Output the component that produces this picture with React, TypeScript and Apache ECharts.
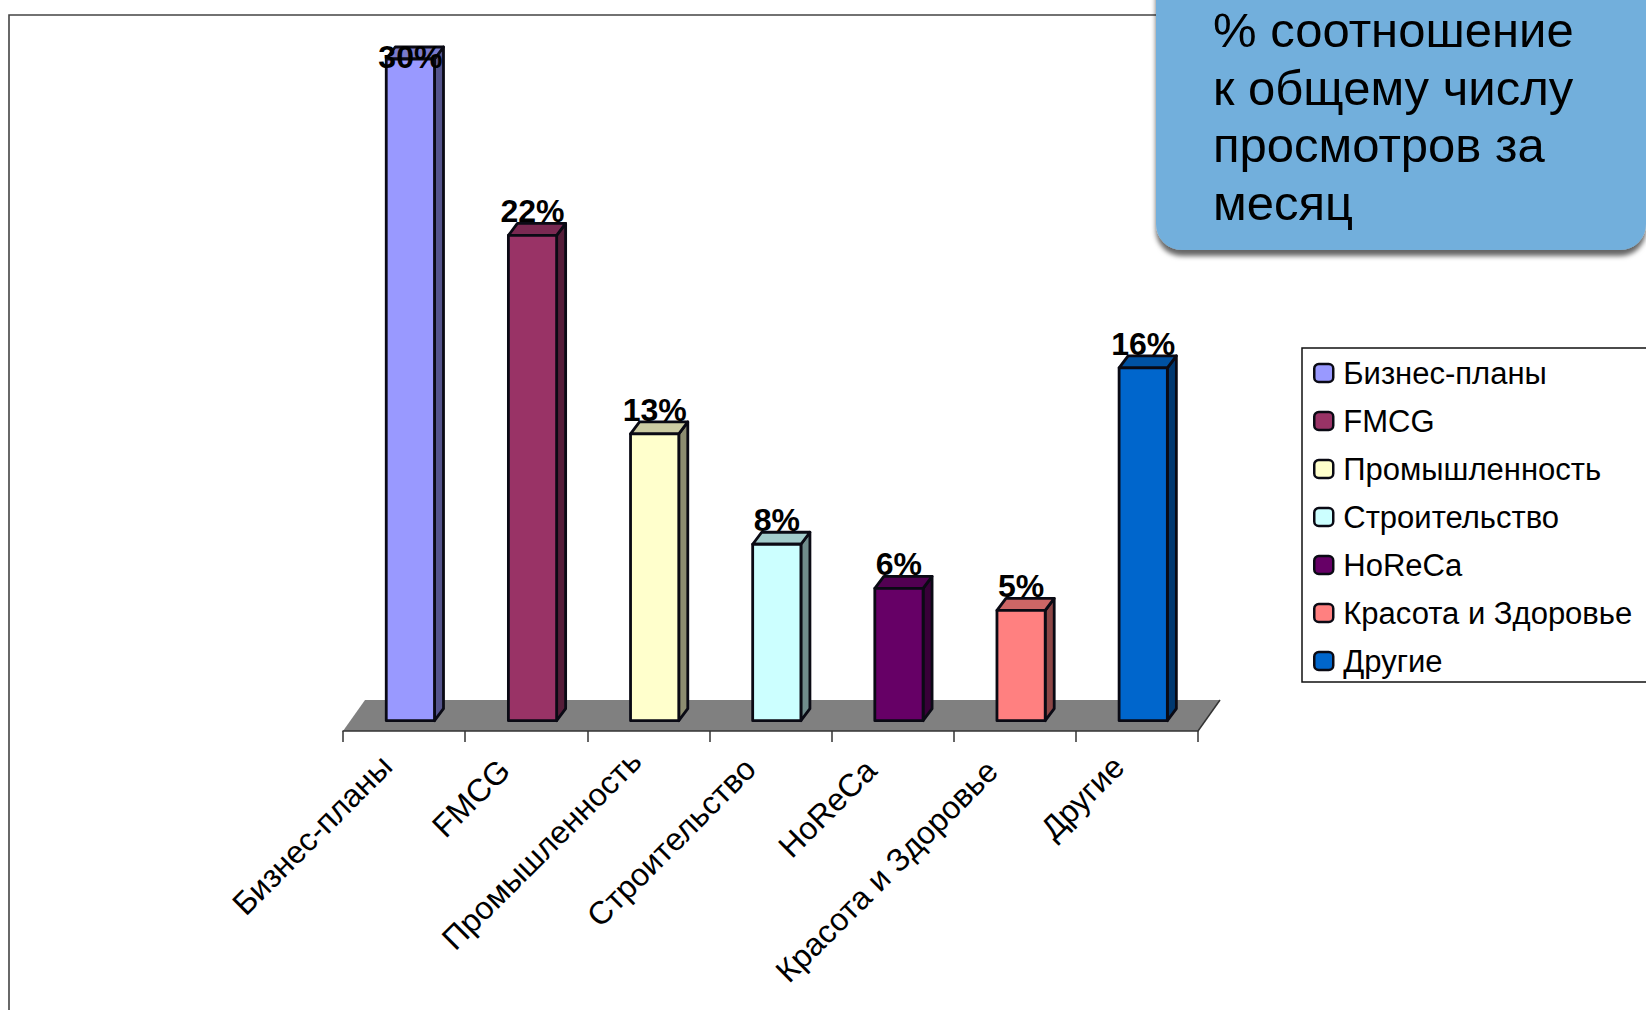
import React, { useEffect, useRef } from "react";
import * as echarts from "echarts";

const categories = ["Бизнес-планы", "FMCG", "Промышленность", "Строительство", "HoReCa", "Красота и Здоровье", "Другие"];
const values = [30, 22, 13, 8, 6, 5, 16];
const colors = ["#9999FF", "#993366", "#FFFFCC", "#CCFFFF", "#660066", "#FF8080", "#0066CC"];
const calloutLines = ["% соотношение", "к общему числу", "просмотров за", "месяц"];
// per-label shift [top, right, bottom, left] of the slanted tick labels
const labelPadding = [
  [0, 25, 0, 0],
  [0, 31, 0, 0],
  [0, 18, 0, 0],
  [0, 29, 0, 0],
  [0, 31, 0, 0],
  [0, 32, 0, 0],
  [0, 26, 0, 0],
];

const shade = (hex: string, k: number) => {
  const n = parseInt(hex.slice(1), 16);
  const c = [(n >> 16) & 255, (n >> 8) & 255, n & 255].map((v) => Math.round(v * k));
  return `rgb(${c[0]},${c[1]},${c[2]})`;
};

const DX = 9;
const DY = 12;
const EDGE = "#0a0a14";

const renderBar = (color: string) => (params: any, api: any) => {
  const idx = api.value(0);
  const val = api.value(1);
  const [cx, top] = api.coord([idx, val]);
  const [, bottom] = api.coord([idx, 0]);
  const w = api.size([1, 0])[0] * 0.395;
  const l = cx + 6.3 - w / 2;
  const r = l + w;
  const stroke = { stroke: EDGE, lineWidth: 2.8, lineJoin: "round" };
  const labelY = Math.max(top - DY + 4, params.coordSys.y + 14);
  return {
    type: "group",
    children: [
      { type: "polygon", shape: { points: [[r, top], [r + DX, top - DY], [r + DX, bottom - DY], [r, bottom]] }, style: { fill: shade(color, 0.55), ...stroke } },
      { type: "polygon", shape: { points: [[l, top], [l + DX, top - DY], [r + DX, top - DY], [r, top]] }, style: { fill: shade(color, 0.8), ...stroke } },
      { type: "rect", shape: { x: l, y: top, width: w, height: bottom - top }, style: { fill: color, ...stroke } },
      {
        type: "text",
        z2: 10,
        style: {
          text: `${val}%`,
          x: l + w / 2,
          y: labelY,
          align: "center",
          verticalAlign: "bottom",
          fontFamily: "Liberation Sans",
          fontWeight: "bold",
          fontSize: 32,
          fill: "#000",
        },
      },
    ],
  };
};

const renderFloor = (params: any) => {
  const c = params.coordSys;
  const b = c.y + c.height;
  const left = c.x;
  const right = c.x + c.width;
  return {
    type: "group",
    children: [
      { type: "polygon", shape: { points: [[left, b], [left + 22, b - 31], [right + 22, b - 31], [right, b]] }, style: { fill: "#808080" } },
      { type: "line", shape: { x1: right, y1: b, x2: right + 22, y2: b - 31 }, style: { stroke: "#333", lineWidth: 1.5 } },
    ],
  };
};

export default function App() {
  const ref = useRef<HTMLDivElement>(null);
  useEffect(() => {
    if (!ref.current) return;
    const chart = echarts.init(ref.current, undefined, { renderer: "svg" });
    chart.setOption({
      animation: false,
      backgroundColor: "#fff",
      textStyle: { fontFamily: "Liberation Sans" },
      grid: { left: 343, right: 448, top: 59, bottom: 279 },
      xAxis: {
        type: "category",
        data: categories.map((value, i) => ({ value, textStyle: { padding: labelPadding[i] } })),
        axisLine: { show: true, onZero: false, lineStyle: { color: "#333", width: 1.5 } },
        axisTick: { show: true, length: 11, alignWithLabel: false, lineStyle: { color: "#333", width: 1.5 } },
        axisLabel: { interval: 0, rotate: 45, margin: 12, fontSize: 32, color: "#000", fontFamily: "Liberation Sans" },
      },
      yAxis: { type: "value", min: -0.467, max: 30, show: false },
      legend: {
        orient: "vertical",
        left: 1302,
        top: 348,
        padding: [9.5, 40, 5.5, 11],
        itemWidth: 19,
        itemHeight: 18,
        itemGap: 17,
        selectedMode: false,
        backgroundColor: "#fff",
        borderColor: "#111",
        borderWidth: 1.5,
        textStyle: { fontSize: 31, color: "#000", fontFamily: "Liberation Sans", padding: [0, 0, 2, 5] },
        data: categories.map((name, i) => ({
          name,
          icon: "roundRect",
          itemStyle: { color: colors[i], borderColor: "#0a0a14", borderWidth: 2.5 },
        })),
      },
      series: [
        { type: "custom", name: "floor", z: -1, silent: true, renderItem: renderFloor, data: [[0, 0]], encode: { x: 0, y: 1 } },
        ...categories.map((name, i) => ({
          type: "custom",
          name,
          z: 2,
          renderItem: renderBar(colors[i]),
          itemStyle: { color: colors[i] },
          clip: false,
          encode: { x: 0, y: 1 },
          data: [[i, values[i]]],
        })),
      ],
      graphic: [
        {
          type: "rect",
          z: -2,
          silent: true,
          shape: { x: 9, y: 15, width: 1800, height: 1200 },
          style: { fill: "none", stroke: "#444", lineWidth: 1.6 },
        },
        {
          type: "rect",
          z: 20,
          silent: true,
          shape: { x: 1156, y: -60, width: 490, height: 310, r: 26 },
          style: { fill: "#72AFDC", shadowColor: "rgba(0,0,0,0.6)", shadowBlur: 5, shadowOffsetX: 0, shadowOffsetY: 6 },
        },
        ...calloutLines.map((text, i) => ({
          type: "text",
          z: 21,
          silent: true,
          style: {
            text,
            x: 1213,
            y: 30 + i * 57.7,
            verticalAlign: "middle",
            fontFamily: "Liberation Sans",
            fontSize: 49,
            fill: "#000",
          },
        })),
      ],
    });
    return () => chart.dispose();
  }, []);
  return <div ref={ref} style={{ position: "fixed", left: 0, top: 0, width: 1646, height: 1010 }} />;
}
